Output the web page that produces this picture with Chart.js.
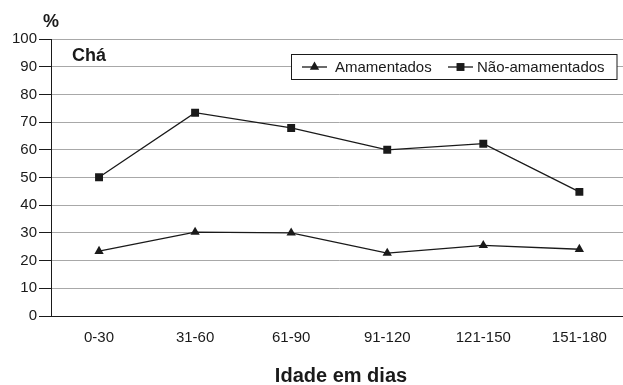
<!DOCTYPE html>
<html>
<head>
<meta charset="utf-8">
<script src="https://cdn.jsdelivr.net/npm/chart.js@4/dist/chart.umd.min.js"></script>
<style>
  html, body { margin: 0; padding: 0; overflow: hidden; background: #fff; }
  canvas { display: block; }
</style>
</head>
<body>
<canvas id="chart" width="633" height="385"></canvas>
<script>
// Percentual de consumo de chá por faixa etária
const ageGroups = ['0-30', '31-60', '61-90', '91-120', '121-150', '151-180'];
const breastfed = [23.4, 30.3, 30.0, 22.7, 25.5, 24.1];
const notBreastfed = [50.1, 73.4, 67.9, 60.0, 62.2, 44.8];
const seriesNames = ['Amamentados', 'Não-amamentados'];
const yMin = 0, yMax = 100, yStep = 10;

const FONT = "'Liberation Sans', Arial, Helvetica, sans-serif";
const INK = '#1a1a1a';
const GRID = '#a8a8a8';

// Texts and boxed legend drawn on top of the plot
const annotations = {
  id: 'annotations',
  afterDraw(chart) {
    const ctx = chart.ctx;
    ctx.save();
    ctx.fillStyle = INK;
    ctx.textBaseline = 'alphabetic';

    ctx.font = 'bold 18px ' + FONT;
    ctx.textAlign = 'left';
    ctx.fillText('%', 43, 27);

    ctx.font = 'bold 18px ' + FONT;
    ctx.fillText('Chá', 72, 61);

    ctx.font = 'bold 20px ' + FONT;
    ctx.textAlign = 'center';
    ctx.fillText('Idade em dias', 341, 382);

    // legend box
    const bx = 291.5, by = 54.5, bw = 325.5, bh = 25;
    ctx.fillStyle = '#fff';
    ctx.fillRect(bx, by, bw, bh);
    ctx.strokeStyle = INK;
    ctx.lineWidth = 1;
    ctx.strokeRect(bx, by, bw, bh);

    const cy = by + bh / 2;
    const entries = [
      { ds: chart.data.datasets[0], x0: 302, x1: 327, tx: 335 },
      { ds: chart.data.datasets[1], x0: 448, x1: 473, tx: 477 }
    ];
    ctx.font = '15px ' + FONT;
    ctx.textAlign = 'left';
    ctx.textBaseline = 'middle';
    entries.forEach(e => {
      ctx.strokeStyle = INK;
      ctx.lineWidth = 1.3;
      ctx.beginPath();
      ctx.moveTo(e.x0, cy);
      ctx.lineTo(e.x1, cy);
      ctx.stroke();
      ctx.fillStyle = INK;
      Chart.helpers.drawPoint(ctx, {
        pointStyle: e.ds.pointStyle,
        radius: e.ds.pointRadius,
        rotation: 0,
        borderWidth: 0
      }, (e.x0 + e.x1) / 2, cy);
      ctx.fillStyle = INK;
      ctx.fillText(e.ds.label, e.tx, cy + 1);
    });
    ctx.restore();
  }
};

new Chart(document.getElementById('chart'), {
  type: 'line',
  data: {
    labels: ageGroups,
    datasets: [
      {
        label: seriesNames[0],
        data: breastfed,
        borderColor: INK,
        backgroundColor: INK,
        borderWidth: 1.3,
        pointStyle: 'triangle',
        pointRadius: 5.4,
        pointBorderWidth: 0,
        tension: 0
      },
      {
        label: seriesNames[1],
        data: notBreastfed,
        borderColor: INK,
        backgroundColor: INK,
        borderWidth: 1.3,
        pointStyle: 'rect',
        pointRadius: 5.6,
        pointBorderWidth: 0,
        tension: 0
      }
    ]
  },
  options: {
    responsive: false,
    animation: false,
    events: [],
    layout: { padding: { top: 39, left: 0, right: 0, bottom: 0 } },
    plugins: {
      legend: { display: false },
      tooltip: { enabled: false },
      title: { display: false }
    },
    scales: {
      x: {
        offset: true,
        grid: { display: false, drawTicks: false },
        border: { display: true, color: INK, width: 1 },
        ticks: {
          color: INK,
          font: { family: FONT, size: 15 },
          padding: 13,
          maxRotation: 0
        },
        afterFit(scale) { scale.height = 69; }
      },
      y: {
        min: yMin,
        max: yMax,
        ticks: {
          stepSize: yStep,
          color: INK,
          font: { family: FONT, size: 15 },
          padding: 2
        },
        grid: {
          color: ctx => (ctx.tick && ctx.tick.value === 0) ? INK : GRID,
          tickColor: INK,
          tickLength: 12,
          lineWidth: 1
        },
        border: { display: true, color: INK, width: 1 },
        afterFit(scale) { scale.width = 51; }
      }
    }
  },
  plugins: [annotations]
});
</script>
</body>
</html>
